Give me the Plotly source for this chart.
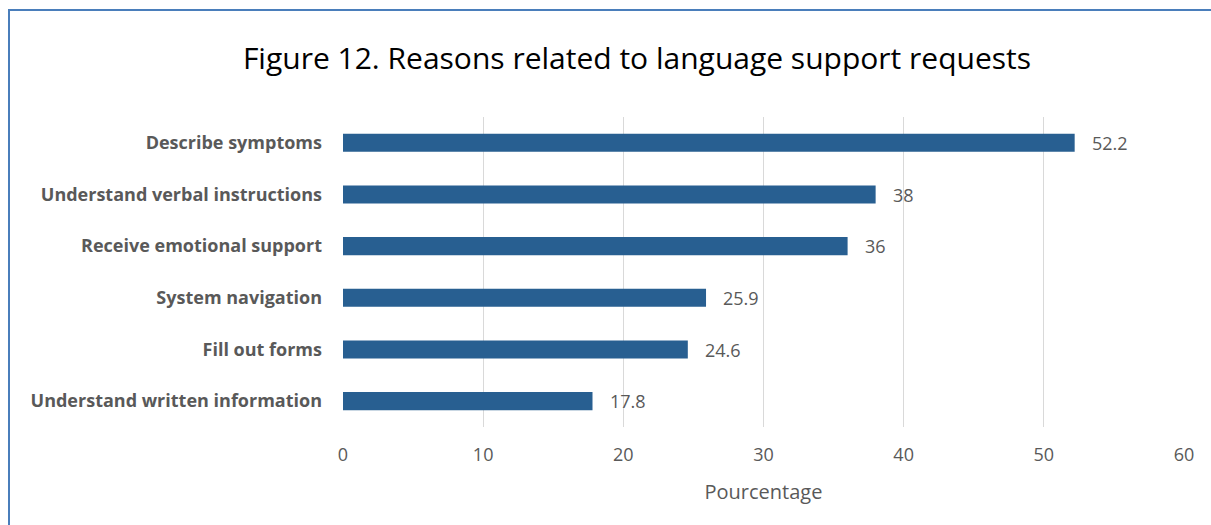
import plotly.graph_objects as go

categories = [
    "Describe symptoms",
    "Understand verbal instructions",
    "Receive emotional support",
    "System navigation",
    "Fill out forms",
    "Understand written information",
]
values = [52.2, 38, 36, 25.9, 24.6, 17.8]
value_labels = ["52.2", "38", "36", "25.9", "24.6", "17.8"]
tick_vals = [0, 10, 20, 30, 40, 50, 60]

FONT = "Open Sans, Lato, sans-serif"
GRAY = "#595959"

fig = go.Figure()
fig.add_trace(go.Bar(
    y=categories,
    x=values,
    orientation="h",
    marker=dict(color="#285f91", line=dict(width=0)),
    hoverinfo="x+y",
))

for c, v, t in zip(categories, values, value_labels):
    fig.add_annotation(
        x=v, y=c, text=t, showarrow=False, xanchor="left", xshift=15,
        font=dict(family=FONT, size=18, color=GRAY),
    )

fig.update_layout(
    width=1211, height=525,
    paper_bgcolor="white", plot_bgcolor="white",
    margin=dict(l=343, r=27, t=117, b=98),
    bargap=0.65,
    showlegend=False,
    title=dict(
        text="Figure 12. Reasons related to language support requests",
        x=0.526, xanchor="center", y=1 - 58 / 525, yanchor="middle",
        font=dict(family=FONT, size=30, color="#000000"),
    ),
    xaxis=dict(
        range=[0, 60], tickvals=tick_vals, ticktext=[str(t) for t in tick_vals],
        showgrid=True, gridcolor="#d9d9d9", gridwidth=1,
        zeroline=False, showline=False,
        ticks="", ticklabelstandoff=15,
        tickfont=dict(family=FONT, size=18, color=GRAY),
        title=dict(text="Pourcentage", standoff=19,
                   font=dict(family=FONT, size=20, color=GRAY)),
        fixedrange=True,
    ),
    yaxis=dict(
        categoryorder="array", categoryarray=categories[::-1],
        showgrid=False, zeroline=False, showline=False,
        ticks="", ticklabelstandoff=20,
        tickfont=dict(family=FONT, size=18, color=GRAY, weight="bold"),
        fixedrange=True,
    ),
    shapes=[dict(
        type="rect", xref="paper", yref="paper",
        x0=-334 / 841, x1=1.2, y0=-0.5, y1=1 + 107 / 310,
        line=dict(color="#4a7ebb", width=2), layer="below",
    )],
)

fig.write_html(
    "out.html",
    config={"displayModeBar": False},
    post_script="document.body.style.margin='0';document.body.style.overflow='hidden';",
)
